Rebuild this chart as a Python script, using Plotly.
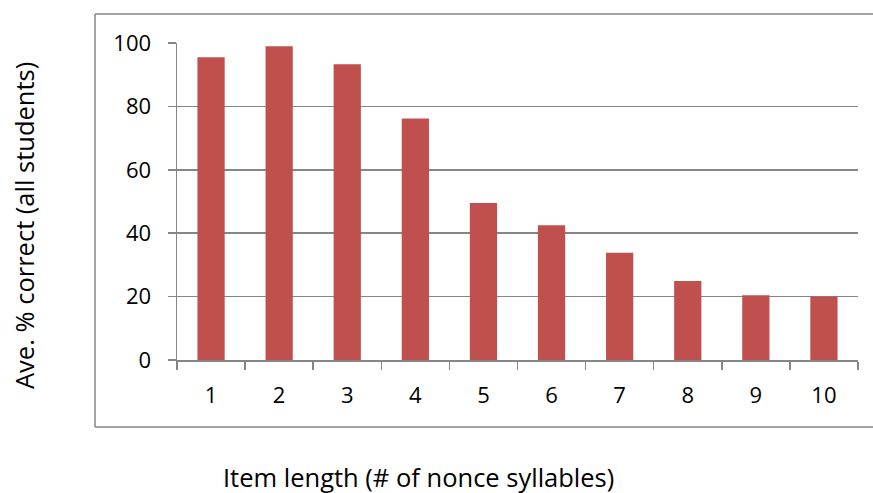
import plotly.graph_objects as go

categories = ["1", "2", "3", "4", "5", "6", "7", "8", "9", "10"]
values = [95.5, 99.0, 93.3, 76.2, 49.5, 42.5, 33.8, 24.9, 20.4, 20.0]
y_ticks = [0, 20, 40, 60, 80, 100]
x_title = "Item length (# of nonce syllables)"
y_title = "Ave. % correct (all students)"

GRAY = "#868686"
FONT = "Open Sans"

fig = go.Figure(go.Bar(x=categories, y=values, marker=dict(color="#C0504D", line=dict(width=0))))

W, H = 873, 493
L, R, T, B = 177, 15, 43, 133
pw, ph = W - L - R, H - T - B

def px(x):
    return (x - L) / pw

def py(y):
    return (H - B - y) / ph

border = dict(color=GRAY, width=1.5)
fig.update_layout(
    width=W, height=H,
    margin=dict(l=L, r=R, t=T, b=B),
    paper_bgcolor="white", plot_bgcolor="white",
    bargap=0.6,
    showlegend=False,
    font=dict(family=FONT, color="black", size=22),
    xaxis=dict(type="category", tickson="boundaries", ticks="outside", ticklen=8,
               tickcolor=GRAY, tickwidth=1.5, showline=True, linecolor=GRAY, linewidth=1.5,
               showgrid=False, tickfont=dict(size=22, family=FONT, color="black"),
               ticklabelstandoff=15),
    yaxis=dict(range=[0, 100], tickvals=y_ticks, ticks="outside", ticklen=8,
               tickcolor=GRAY, tickwidth=1.5, showline=True, linecolor=GRAY, linewidth=1.5,
               showgrid=True, gridcolor=GRAY, gridwidth=1.5, zeroline=False,
               tickfont=dict(size=22, family=FONT, color="black"),
               ticklabelstandoff=12),
    shapes=[
        dict(type="line", xref="paper", yref="paper", x0=px(95), x1=px(873), y0=py(14), y1=py(14), line=border, layer="above"),
        dict(type="line", xref="paper", yref="paper", x0=px(95), x1=px(873), y0=py(427), y1=py(427), line=border, layer="above"),
        dict(type="line", xref="paper", yref="paper", x0=px(95), x1=px(95), y0=py(427), y1=py(14), line=border, layer="above"),
    ],
    annotations=[
        dict(text=x_title, xref="paper", yref="paper", x=px(418), y=py(477),
             xanchor="center", yanchor="middle", showarrow=False,
             font=dict(size=25.5, family=FONT, color="black")),
        dict(text=y_title, xref="paper", yref="paper", x=px(24), y=py(226),
             xanchor="center", yanchor="middle", showarrow=False, textangle=-90,
             font=dict(size=25.5, family=FONT, color="black")),
    ],
)

fig.write_html("out.html",
               config={"displayModeBar": False, "staticPlot": True},
               post_script="document.body.style.margin='0';document.body.style.overflow='hidden';")
